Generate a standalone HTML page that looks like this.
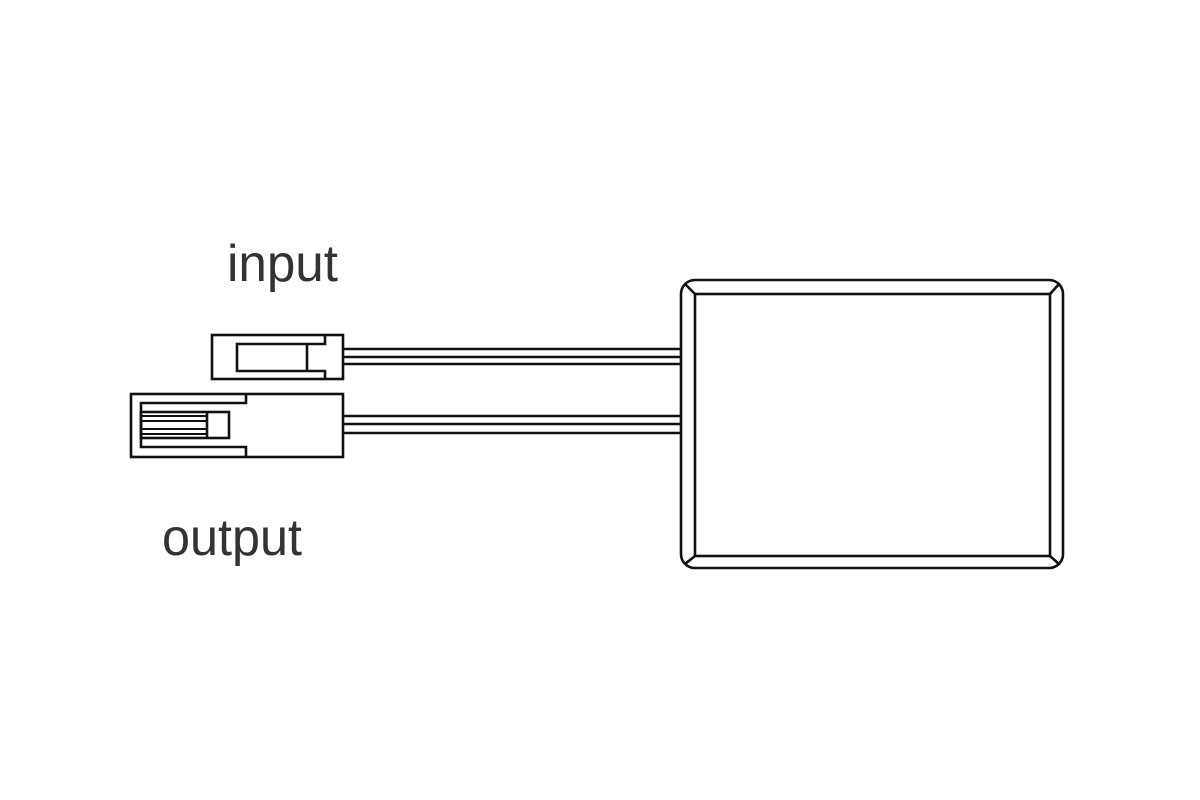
<!DOCTYPE html>
<html><head><meta charset="utf-8"><style>
html,body{margin:0;padding:0;background:#fff;}
svg{display:block;}
</style></head><body>
<svg width="1200" height="800" viewBox="0 0 1200 800" xmlns="http://www.w3.org/2000/svg">
<rect width="1200" height="800" fill="#fff"/>
<g fill="none" stroke="#111" stroke-width="2.6" stroke-linejoin="miter">
  <line x1="343" y1="349" x2="681" y2="349"/>
  <line x1="343" y1="357" x2="681" y2="357"/>
  <line x1="343" y1="364" x2="681" y2="364"/>
  <line x1="343" y1="416" x2="681" y2="416"/>
  <line x1="343" y1="424" x2="681" y2="424"/>
  <line x1="343" y1="433" x2="681" y2="433"/>

  <rect x="212" y="335" width="131" height="44" fill="#fff"/>
  <path d="M325 335 V344 H237 V371 H325 V379"/>
  <line x1="307" y1="344" x2="307" y2="371"/>

  <rect x="131" y="394" width="212" height="63" fill="#fff"/>
  <path d="M246 394 V403 H141 V447 H246 V457"/>
  <rect x="141" y="412" width="88" height="26"/>
  <line x1="207" y1="412" x2="207" y2="438"/>
  <line x1="141" y1="416" x2="207" y2="416" stroke-width="2"/>
  <line x1="141" y1="421" x2="207" y2="421" stroke-width="2"/>
  <line x1="141" y1="429" x2="207" y2="429" stroke-width="2"/>
  <line x1="141" y1="434" x2="207" y2="434" stroke-width="2"/>

  <rect x="681" y="280" width="382" height="288" rx="14" ry="14" fill="#fff"/>
  <rect x="695" y="294" width="355" height="262"/>
  <line x1="685" y1="284" x2="695" y2="294"/>
  <line x1="1059" y1="284" x2="1050" y2="294"/>
  <line x1="685" y1="564" x2="695" y2="556"/>
  <line x1="1059" y1="564" x2="1050" y2="556"/>
</g>
<g font-family="Liberation Sans, sans-serif" fill="#333" font-size="52">
  <text x="227" y="281" textLength="111" lengthAdjust="spacingAndGlyphs">input</text>
  <text x="162" y="555" textLength="140" lengthAdjust="spacingAndGlyphs">output</text>
</g>
</svg>
</body></html>
